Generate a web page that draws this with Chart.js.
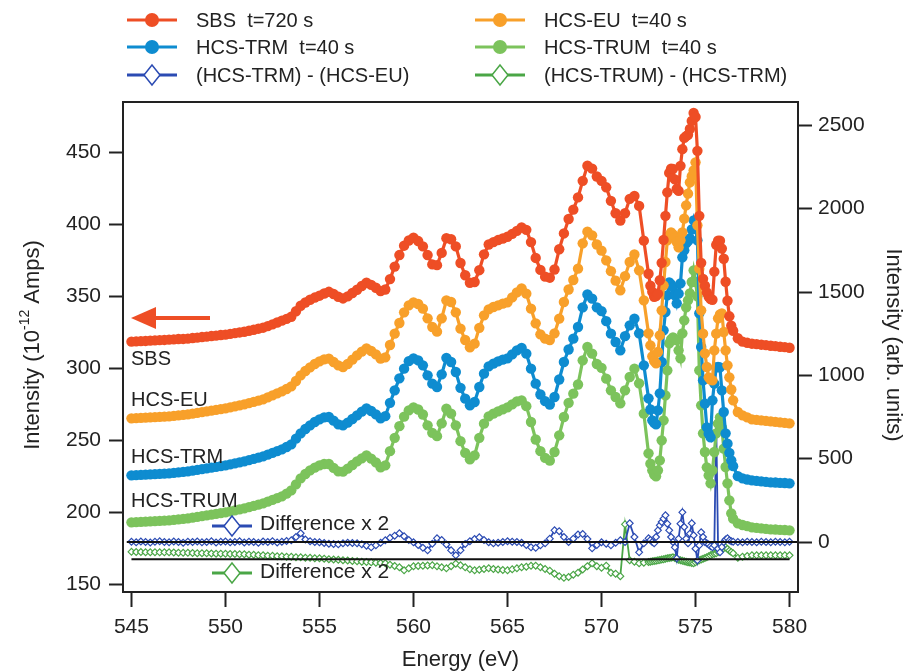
<!DOCTYPE html>
<html>
<head>
<meta charset="utf-8">
<script src="https://cdn.jsdelivr.net/npm/chart.js@4.4.1/dist/chart.umd.min.js"></script>
<style>
  html, body { margin: 0; padding: 0; background: #fff; }
  canvas { display: block; }
</style>
</head>
<body>
<canvas id="xasChart" width="910" height="672"></canvas>
<script>
// Photon energy (eV), shared by every trace
const energy = [
  545, 545.25, 545.5, 545.75, 546, 546.25, 546.5, 546.75, 547, 547.25, 547.5, 547.75, 548, 548.25, 548.5, 548.75,
  549, 549.25, 549.5, 549.75, 550, 550.25, 550.5, 550.75, 551, 551.25, 551.5, 551.75, 552, 552.25, 552.5, 552.75,
  553, 553.25, 553.5, 553.75, 554, 554.25, 554.5, 554.75, 555, 555.25, 555.5, 555.75, 556, 556.25, 556.5, 556.75,
  557, 557.25, 557.5, 557.75, 558, 558.25, 558.5, 558.75, 559, 559.25, 559.5, 559.75, 560, 560.25, 560.5, 560.75,
  561, 561.25, 561.5, 561.75, 562, 562.25, 562.5, 562.75, 563, 563.25, 563.5, 563.75, 564, 564.25, 564.5, 564.75,
  565, 565.25, 565.5, 565.75, 566, 566.25, 566.5, 566.75, 567, 567.25, 567.5, 567.75, 568, 568.25, 568.5, 568.75,
  569, 569.25, 569.5, 569.75, 570, 570.25, 570.5, 570.75, 571, 571.25, 571.5, 571.75, 572, 572.25, 572.5,
  572.6, 572.7, 572.8, 572.9, 573, 573.1, 573.2, 573.3, 573.4, 573.5, 573.6, 573.7, 573.8, 573.9, 574, 574.1, 574.2, 574.3, 574.4, 574.5,
  574.6, 574.7, 574.8, 574.9, 575, 575.1, 575.2, 575.3, 575.4, 575.5, 575.6, 575.7, 575.8, 575.9, 576, 576.1, 576.2, 576.3, 576.4, 576.5,
  576.6, 576.7, 576.8, 576.9, 577, 577.25, 577.5, 577.75, 578, 578.25, 578.5, 578.75, 579, 579.25, 579.5, 579.75, 580
];

// SBS t=720 s, left axis (10^-12 Amps)
const sbs = [
  318.4, 318.6, 318.8, 318.9, 319.1, 319.3, 319.5, 319.6, 319.8, 320.0, 320.2, 320.3, 320.5, 320.9, 321.2, 321.6,
  321.9, 322.3, 322.6, 323.0, 323.3, 323.8, 324.3, 324.8, 325.3, 326.0, 326.7, 327.4, 328.1, 329.2, 330.4, 331.7,
  333.0, 334.2, 335.7, 339.5, 343.3, 345.6, 347.5, 349.0, 350.3, 351.8, 353.0, 351.5, 349.6, 348.4, 349.8, 352.2,
  354.4, 357.0, 359.3, 357.8, 355.8, 353.5, 354.6, 361.8, 370.5, 378.5, 385.0, 388.6, 390.5, 388.2, 384.5, 378.5,
  372.0, 371.5, 380.0, 390.2, 389.5, 384.5, 373.0, 364.5, 359.3, 359.8, 368.0, 379.0, 385.8, 387.5, 388.9, 390.0,
  391.2, 393.2, 395.3, 397.6, 396.0, 387.5, 376.5, 368.2, 363.5, 362.8, 368.5, 382.5, 393.5, 403.5, 410.0, 418.5,
  430.0, 440.5, 438.5, 433.0, 430.0, 425.5, 416.1, 407.5, 402.5, 407.5, 417.5, 419.5, 412.6, 388.5, 365.5,
  357.2, 353.0, 349.6, 350.0, 351.7, 361.0, 373.1, 389.0, 405.7, 422.0, 435.5, 438.5, 438.3, 431.0, 424.4, 423.0, 440.4, 452.0, 459.8, 461.0,
  461.9, 466.0, 471.6, 477.1, 474.3, 450.8, 405.7, 373.1, 362.0, 357.2, 352.5, 349.6, 348.0, 347.5, 367.0, 385.6, 388.5, 388.4, 383.0, 375.9,
  360.0, 346.8, 336.0, 329.5, 326.0, 320.8, 318.4, 317.6, 317.0, 316.7, 316.3, 316.0, 315.6, 315.3, 314.9, 314.6, 314.2
];

// HCS-EU t=40 s, right axis (arb. units)
const hcsEu = [
  742, 743, 745, 746, 748, 749, 751, 752, 754, 757, 760, 763, 766, 770, 775, 779,
  784, 788, 793, 797, 802, 808, 814, 820, 826, 833, 841, 848, 856, 868, 880, 892,
  904, 918, 934, 966, 1000, 1026, 1048, 1068, 1084, 1096, 1100, 1080, 1060, 1050, 1068, 1094,
  1120, 1142, 1162, 1146, 1126, 1100, 1108, 1182, 1250, 1314, 1378, 1420, 1438, 1428, 1400, 1342,
  1290, 1262, 1342, 1450, 1440, 1378, 1280, 1212, 1168, 1190, 1285, 1360, 1396, 1410, 1420, 1430,
  1438, 1468, 1498, 1522, 1490, 1400, 1312, 1246, 1220, 1212, 1252, 1340, 1440, 1515, 1572, 1640,
  1792, 1862, 1840, 1785, 1748, 1690, 1625, 1568, 1510, 1595, 1680, 1725, 1630, 1450, 1252,
  1180, 1114, 1085, 1072, 1140, 1240, 1390, 1540, 1680, 1810, 1840, 1858, 1845, 1828, 1800, 1768, 1810, 1858, 1940, 2020,
  2090, 2158, 2195, 2230, 2278, 1900, 1640, 1390, 1250, 1132, 1050, 988, 975, 970, 1150, 1250, 1342, 1365, 1372, 1260,
  1150, 1060, 988, 915, 850, 780, 760, 748, 736, 733, 730, 727, 724, 721, 718, 715, 712
];

// HCS-TRM t=40 s
const hcsTrm = [
  400, 401, 403, 404, 406, 407, 409, 410, 412, 415, 418, 421, 424, 428, 433, 437,
  442, 446, 451, 455, 460, 466, 472, 478, 484, 491, 499, 506, 514, 524, 535, 545,
  556, 570, 586, 620, 652, 678, 700, 720, 736, 748, 750, 728, 706, 700, 716, 738,
  760, 782, 802, 786, 766, 742, 755, 835, 910, 982, 1040, 1085, 1102, 1090, 1060, 1000,
  950, 930, 1006, 1105, 1080, 1020, 925, 860, 820, 840, 930, 1010, 1054, 1070, 1084, 1094,
  1102, 1126, 1150, 1165, 1130, 1040, 950, 885, 845, 825, 870, 975, 1080, 1155, 1220, 1290,
  1408, 1485, 1460, 1408, 1385, 1325, 1250, 1200, 1150, 1235, 1300, 1340, 1252, 1060, 862,
  795, 730, 715, 706, 790, 892, 1080, 1270, 1380, 1480, 1558, 1545, 1528, 1480, 1432, 1490, 1552, 1708, 1750, 1792,
  1805, 1822, 1875, 1930, 1880, 1810, 1372, 1170, 970, 830, 688, 650, 628, 850, 950, 1048, 1050, 1048, 910, 780,
  652, 590, 535, 490, 455, 395, 382, 375, 370, 367, 364, 361, 358, 357, 355, 354, 352
];

// HCS-TRUM t=40 s
const hcsTrum = [
  118, 119, 121, 122, 124, 125, 127, 128, 130, 133, 136, 139, 142, 146, 151, 155,
  160, 164, 169, 173, 178, 184, 190, 196, 202, 209, 217, 224, 232, 242, 253, 263,
  274, 290, 310, 346, 382, 408, 430, 446, 460, 468, 468, 445, 424, 422, 440, 462,
  484, 502, 520, 500, 478, 448, 460, 545, 625, 695, 752, 790, 808, 795, 765, 700,
  655, 635, 712, 800, 770, 700, 605, 535, 496, 520, 625, 710, 754, 770, 784, 796,
  808, 826, 844, 850, 815, 720, 615, 545, 505, 488, 540, 640, 750, 835, 890, 945,
  1090, 1170, 1130, 1068, 1045, 980, 910, 870, 832, 910, 990, 1040, 952, 770, 532,
  470, 430, 405, 394, 430, 490, 610, 730, 880, 1030, 1192, 1215, 1228, 1220, 1210, 1150, 1102, 1252, 1330, 1408,
  1450, 1492, 1560, 1630, 1560, 1474, 1030, 820, 652, 540, 448, 400, 352, 430, 540, 652, 710, 748, 688, 560,
  450, 352, 250, 172, 140, 112, 102, 95, 88, 85, 82, 79, 76, 75, 73, 72, 70
];

// (HCS-TRM) - (HCS-EU), difference x 2
const diffTrmEu = [
  2, -2, 3, 0, -3, 2, 4, 0, -2, 3, 0, -4, 2, 0, 3, -2,
  0, 4, -3, 1, 3, -2, 0, 4, -3, 2, 0, -4, 3, 0, 5, -3,
  2, 6, 10, 30, 52, 15, 5, 0, -2, -6, -10, -12, -14, -8, -4, -6,
  -8, -14, -22, -32, -20, -5, 10, 25, 38, 52, 35, 12, -2, -18, -35, -50,
  -10, 22, 12, -15, -50, -80, -50, -12, 5, 18, 28, 12, -2, -8, -4, 0,
  4, 2, 0, -4, -18, -32, -35, -20, -8, 20, 70, 65, 30, 0, 20, 45,
  48, 18, -38, -18, -2, -10, -20, -5, 10, 0, 112, 30, -62, -8, 22,
  12, 0, -8, 30, 70, 100, 120, 140, 160, 110, 70, 30, 0, -32, -98, 20, 110, 178, 90, 20,
  -8, 50, 112, 40, -40, -110, -20, 58, 30, 0, -8, -15, -25, -32, -20, 712, -40, -62, -30, 0,
  15, 22, 10, 5, 2, 0, -2, 2, 0, -2, 2, 0, -2, 2, 0, -2, 2
];

// (HCS-TRUM) - (HCS-TRM), difference x 2 (offset)
const diffTrumTrm = [
  -59, -60, -60, -61, -61, -61, -62, -62, -62, -63, -64, -65, -65, -66, -67, -67,
  -68, -69, -70, -70, -71, -72, -72, -73, -74, -76, -77, -79, -80, -82, -83, -85,
  -86, -88, -89, -91, -92, -94, -95, -97, -98, -100, -103, -105, -107, -109, -111, -114,
  -116, -118, -120, -122, -124, -126, -128, -136, -144, -152, -170, -158, -146, -144, -143, -141,
  -140, -146, -152, -158, -145, -130, -140, -152, -164, -170, -166, -162, -158, -162, -165, -168,
  -170, -164, -158, -152, -148, -143, -142, -152, -162, -172, -190, -205, -215, -210, -196, -184,
  -165, -145, -128, -145, -155, -142, -185, -190, -205, 106, -110, -118, -128, -124, -120,
  -118, -116, -114, -112, -110, -108, -105, -103, -100, -98, -96, -94, -92, -96, -102, -106, -110, -113, -116, -118,
  -121, -123, -126, -128, -122, -116, -110, -105, -100, -96, -92, -86, -80, -74, -70, -68, -60, -52, -45, -38,
  -32, -42, -52, -60, -68, -95, -88, -84, -80, -80, -80, -80, -80, -80, -80, -80, -80
];

// Zero lines of the two difference traces
const zeroLineEnergy = [544.75, 580.45];
const zeroLineTrmEu = [0, 0];
const zeroLineEnergy2 = [545, 580];
const zeroLineTrumTrm = [-104, -104];

// Tick labels
const energyTicks = [545, 550, 555, 560, 565, 570, 575, 580];
const ampsTicks = [150, 200, 250, 300, 350, 400, 450];
const arbTicks = [0, 500, 1000, 1500, 2000, 2500];

// Colors
const RED = "#EE4E25";
const ORANGE = "#F8A02A";
const BLUE = "#0E8CD0";
const GREEN = "#7CC35C";
const DIFF_BLUE = "#2B4BB3";
const DIFF_GREEN = "#4AA646";
const INK = "#222222";
const FONT = '"Liberation Sans", Arial, Helvetica, sans-serif';

function toPoints(xs, ys) {
  return xs.map((x, i) => ({ x: x, y: ys[i] }));
}

function spectrum(label, values, color, axis) {
  return {
    label: label,
    data: toPoints(energy, values),
    yAxisID: axis,
    borderColor: color,
    backgroundColor: color,
    borderWidth: 3.2,
    pointRadius: 5.2,
    pointBorderWidth: 0,
    pointBackgroundColor: color,
  };
}

function difference(label, values, color) {
  return {
    label: label,
    data: toPoints(energy, values),
    yAxisID: "y1",
    borderColor: color,
    borderWidth: 1.8,
    pointStyle: "rectRot",
    pointRadius: 3.4,
    pointBorderWidth: 1.2,
    pointBorderColor: color,
    pointBackgroundColor: "#ffffff",
  };
}

function zeroLine(xs, ys) {
  return {
    label: "",
    data: toPoints(xs, ys),
    yAxisID: "y1",
    borderColor: "#111111",
    borderWidth: 2,
    pointRadius: 0,
  };
}

// Legend entry: line + marker + text
function legendItem(ctx, x0, y, len, color, text, diamond) {
  ctx.strokeStyle = color;
  ctx.lineWidth = 3;
  ctx.beginPath();
  ctx.moveTo(x0, y);
  ctx.lineTo(x0 + len, y);
  ctx.stroke();
  const mx = x0 + len / 2;
  if (diamond) {
    ctx.fillStyle = "#ffffff";
    ctx.lineWidth = 1.5;
    ctx.beginPath();
    ctx.moveTo(mx, y - 10);
    ctx.lineTo(mx + 8, y);
    ctx.lineTo(mx, y + 10);
    ctx.lineTo(mx - 8, y);
    ctx.closePath();
    ctx.fill();
    ctx.stroke();
  } else {
    ctx.fillStyle = color;
    ctx.beginPath();
    ctx.arc(mx, y, 7, 0, Math.PI * 2);
    ctx.fill();
  }
  if (text) {
    ctx.fillStyle = INK;
    ctx.font = "20px " + FONT;
    ctx.textAlign = "left";
    ctx.textBaseline = "middle";
    ctx.fillText(text, x0 + 69, y + 1);
  }
}

const decorPlugin = {
  id: "decor",
  afterDraw(chart) {
    const ctx = chart.ctx;
    const ca = chart.chartArea;
    ctx.save();

    // Frame
    ctx.strokeStyle = INK;
    ctx.lineWidth = 2;
    ctx.strokeRect(ca.left, ca.top, ca.right - ca.left, ca.bottom - ca.top);

    // Top legend
    legendItem(ctx, 127, 20, 50, RED, "SBS  t=720 s", false);
    legendItem(ctx, 127, 47, 50, BLUE, "HCS-TRM  t=40 s", false);
    legendItem(ctx, 127, 75, 50, DIFF_BLUE, "(HCS-TRM) - (HCS-EU)", true);
    legendItem(ctx, 475, 20, 50, ORANGE, "HCS-EU  t=40 s", false);
    legendItem(ctx, 475, 47, 50, GREEN, "HCS-TRUM  t=40 s", false);
    legendItem(ctx, 475, 75, 50, DIFF_GREEN, "(HCS-TRUM) - (HCS-TRM)", true);

    // Difference labels inside the plot
    legendItem(ctx, 212, 526, 40, DIFF_BLUE, "", true);
    legendItem(ctx, 212, 573, 40, DIFF_GREEN, "", true);
    ctx.fillStyle = INK;
    ctx.font = "21px " + FONT;
    ctx.textAlign = "left";
    ctx.textBaseline = "middle";
    ctx.fillText("Difference x 2", 260, 524);
    ctx.fillText("Difference x 2", 260, 572);

    // Trace names
    ctx.font = "20px " + FONT;
    ctx.fillText("SBS", 131, 359);
    ctx.fillText("HCS-EU", 131, 400);
    ctx.fillText("HCS-TRM", 131, 457);
    ctx.fillText("HCS-TRUM", 131, 501);

    // Arrow marking the SBS axis
    ctx.strokeStyle = RED;
    ctx.fillStyle = RED;
    ctx.lineWidth = 4;
    ctx.beginPath();
    ctx.moveTo(150, 318);
    ctx.lineTo(210, 318);
    ctx.stroke();
    ctx.beginPath();
    ctx.moveTo(131, 318);
    ctx.lineTo(156, 307);
    ctx.lineTo(156, 329);
    ctx.closePath();
    ctx.fill();

    // Axis titles
    ctx.fillStyle = INK;
    ctx.textBaseline = "middle";
    ctx.font = "22px " + FONT;
    ctx.textAlign = "center";
    ctx.fillText("Energy (eV)", (ca.left + ca.right) / 2, 660);

    ctx.save();
    ctx.translate(893, 345);
    ctx.rotate(Math.PI / 2);
    ctx.fillText("Intensity (arb. units)", 0, 0);
    ctx.restore();

    // Left title with superscript
    ctx.save();
    ctx.translate(33, 345);
    ctx.rotate(-Math.PI / 2);
    const big = "22px " + FONT;
    const small = "14px " + FONT;
    const p1 = "Intensity (10";
    const p2 = "-12";
    const p3 = " Amps)";
    ctx.font = big;
    const w1 = ctx.measureText(p1).width;
    const w3 = ctx.measureText(p3).width;
    ctx.font = small;
    const w2 = ctx.measureText(p2).width;
    let x = -(w1 + w2 + w3) / 2;
    ctx.textAlign = "left";
    ctx.font = big;
    ctx.fillText(p1, x, 0);
    x += w1;
    ctx.font = small;
    ctx.fillText(p2, x, -8);
    x += w2;
    ctx.font = big;
    ctx.fillText(p3, x, 0);
    ctx.restore();

    ctx.restore();
  },
};

const tickGrid = {
  display: true,
  drawOnChartArea: false,
  drawTicks: true,
  tickLength: 14,
  tickWidth: 2,
  tickColor: INK,
};

const ctx = document.getElementById("xasChart").getContext("2d");

new Chart(ctx, {
  type: "line",
  data: {
    datasets: [
      zeroLine(zeroLineEnergy, zeroLineTrmEu),
      zeroLine(zeroLineEnergy2, zeroLineTrumTrm),
      spectrum("SBS  t=720 s", sbs, RED, "y"),
      spectrum("HCS-EU  t=40 s", hcsEu, ORANGE, "y1"),
      spectrum("HCS-TRM  t=40 s", hcsTrm, BLUE, "y1"),
      spectrum("HCS-TRUM  t=40 s", hcsTrum, GREEN, "y1"),
      difference("(HCS-TRM) - (HCS-EU)", diffTrmEu, DIFF_BLUE),
      difference("(HCS-TRUM) - (HCS-TRM)", diffTrumTrm, DIFF_GREEN),
    ],
  },
  options: {
    responsive: false,
    devicePixelRatio: 1,
    animation: false,
    events: [],
    layout: { padding: { top: 102, left: 0, right: 0, bottom: 0 } },
    elements: { line: { tension: 0 } },
    plugins: {
      legend: { display: false },
      tooltip: { enabled: false },
    },
    scales: {
      x: {
        type: "linear",
        position: "bottom",
        min: 544.55,
        max: 580.45,
        afterBuildTicks: (s) => { s.ticks = energyTicks.map((v) => ({ value: v })); },
        afterFit: (s) => { s.height = 80; },
        ticks: {
          font: { family: FONT, size: 21 },
          color: INK,
          padding: 8,
          autoSkip: false,
          maxRotation: 0,
          callback: (v) => String(v),
        },
        grid: Object.assign({}, tickGrid, { tickLength: 15 }),
        border: { display: false },
      },
      y: {
        position: "left",
        min: 144.7,
        max: 484.7,
        afterBuildTicks: (s) => { s.ticks = ampsTicks.map((v) => ({ value: v })); },
        afterFit: (s) => { s.width = 123; },
        ticks: {
          font: { family: FONT, size: 21 },
          color: INK,
          padding: 8,
          callback: (v) => String(v),
        },
        grid: tickGrid,
        border: { display: false },
      },
      y1: {
        position: "right",
        min: -300,
        max: 2640,
        afterBuildTicks: (s) => { s.ticks = arbTicks.map((v) => ({ value: v })); },
        afterFit: (s) => { s.width = 112; },
        ticks: {
          font: { family: FONT, size: 21 },
          color: INK,
          padding: 6,
          callback: (v) => String(v),
        },
        grid: tickGrid,
        border: { display: false },
      },
    },
  },
  plugins: [decorPlugin],
});
</script>
</body>
</html>
